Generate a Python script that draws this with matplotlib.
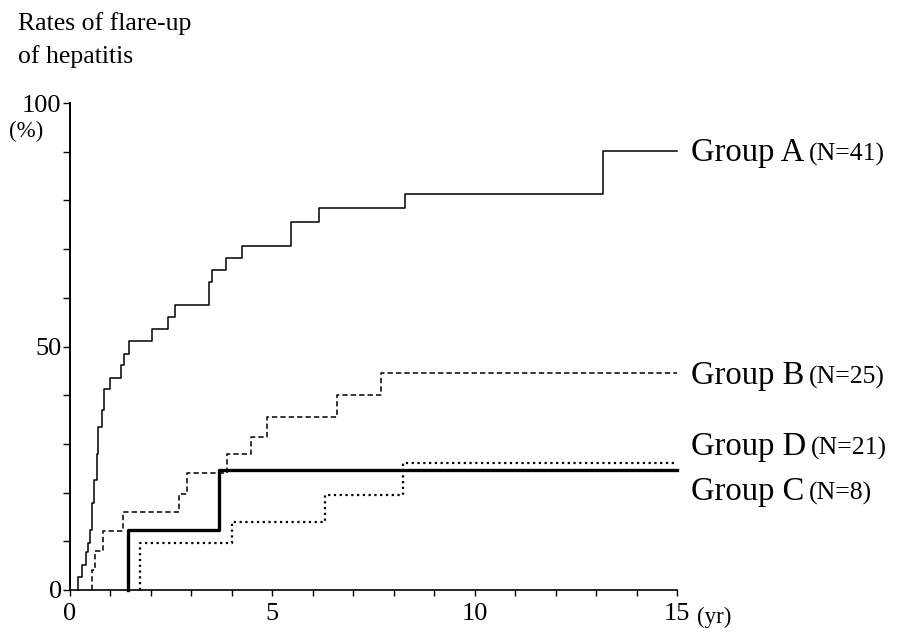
import matplotlib
matplotlib.use("Agg")
import matplotlib.pyplot as plt
from matplotlib.ticker import MultipleLocator

# ---- data (time in years, cumulative % flare-up) ----
group_a_t = [0.19, 0.29, 0.39, 0.44, 0.49, 0.54, 0.60, 0.66, 0.70, 0.80, 0.85, 0.99,
             1.26, 1.34, 1.46, 2.03, 2.43, 2.59, 3.44, 3.50, 3.85, 4.24, 5.45, 6.15,
             8.29, 13.16]
group_a_v = [2.6, 5.1, 7.9, 9.6, 12.3, 17.8, 22.5, 28.0, 33.5, 37.0, 41.3, 43.6,
             46.2, 48.5, 51.1, 53.6, 56.0, 58.5, 63.3, 65.7, 68.1, 70.7, 75.6, 78.4,
             81.3, 90.1]

group_b_t = [0.55, 0.63, 0.82, 1.32, 2.70, 2.88, 3.87, 4.47, 4.88, 6.61, 7.68]
group_b_v = [4.1, 8.1, 12.1, 16.0, 19.8, 24.0, 27.9, 31.5, 35.6, 40.1, 44.5]

group_d_t = [1.44, 3.69]
group_d_v = [12.4, 24.6]

group_c_t = [1.74, 4.00, 6.30, 8.22]
group_c_v = [9.6, 14.0, 19.6, 26.0]

end_time = 15

labels = ["Group A", "Group B", "Group D", "Group C"]
n_labels = ["(N=41)", "(N=25)", "(N=21)", "(N=8)"]

x_major = [0, 5, 10, 15]
y_major_labels = [0, 50, 100]

SERIF = "Liberation Serif"
plt.rcParams["font.family"] = [SERIF, "DejaVu Serif"]

W, H = 898, 641
fig = plt.figure(figsize=(W / 100, H / 100), dpi=100)
ax = fig.add_axes([70 / W, 1 - 590 / H, (677 - 70) / W, (590 - 103) / H])


def km(t, v):
    xs = [t[0]] + list(t) + [end_time]
    ys = [0] + list(v) + [v[-1]]
    return xs, ys


xa, ya = km(group_a_t, group_a_v)
xb, yb = km(group_b_t, group_b_v)
xd, yd = km(group_d_t, group_d_v)
xc, yc = km(group_c_t, group_c_v)

ax.step(xa, ya, where="post", color="black", lw=1.1, clip_on=False)
ax.step(xb, yb, where="post", color="black", lw=1.1, linestyle=(0, (3.5, 2)),
        clip_on=False)
ax.step(xc, yc, where="post", color="black", lw=1.6, linestyle=(0, (1, 1.6)),
        clip_on=False)
ax.step(xd, yd, where="post", color="black", lw=2.4, clip_on=False)

ax.set_xlim(0, 15)
ax.set_ylim(0, 100)

for s in ["top", "right"]:
    ax.spines[s].set_visible(False)
ax.spines["left"].set_linewidth(1.4)
ax.spines["bottom"].set_linewidth(1.2)

ax.set_xticks(x_major)
ax.set_xticklabels([str(v) for v in x_major])
ax.xaxis.set_minor_locator(MultipleLocator(1))
ax.set_yticks(list(range(0, 101, 10)))
ax.set_yticklabels([str(v) if v in y_major_labels else "" for v in range(0, 101, 10)])

ax.tick_params(axis="x", which="both", direction="out", length=4, width=1.0,
               pad=5, labelsize=19)
ax.tick_params(axis="y", which="both", direction="out", length=5, width=1.0,
               pad=1, labelsize=19)

# title / axis units
fig.text(18 / W, 1 - 30 / H, "Rates of flare-up", fontsize=18.5, va="baseline",
         ha="left")
fig.text(18 / W, 1 - 63 / H, "of hepatitis", fontsize=18.5, va="baseline",
         ha="left")
fig.text(9 / W, 1 - 131 / H, "(%)", fontsize=16.5, va="center", ha="left")
fig.text(697 / W, 1 - 617 / H, "(yr)", fontsize=16.5, va="center", ha="left")

# group labels
baselines = [161, 384, 455, 500]
fig.canvas.draw()
renderer = fig.canvas.get_renderer()
for lab, nl, yb_px in zip(labels, n_labels, baselines):
    t = fig.text(691 / W, 1 - yb_px / H, lab, fontsize=23.5, va="baseline",
                 ha="left")
    bb = t.get_window_extent(renderer=renderer)
    fig.text((bb.x1 + 5) / W, 1 - yb_px / H, nl, fontsize=18.5, va="baseline",
             ha="left")

fig.savefig("out.png", dpi=100)
